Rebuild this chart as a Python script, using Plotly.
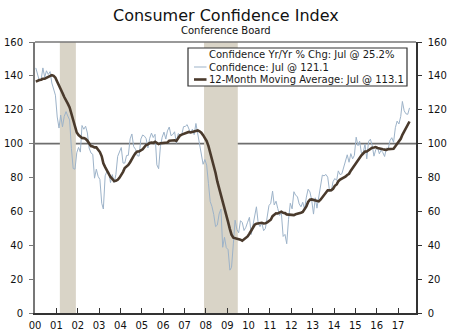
import pandas as pd
import plotly.graph_objects as go

# Conference Board Consumer Confidence Index, monthly, Jan 1999 - Jul 2017
first_month = "1999-01"
confidence = [
    # 1999
    128.9, 133.1, 134.0, 135.5, 137.7, 139.0, 136.2, 136.0, 134.2, 130.5, 137.0, 141.7,
    # 2000
    144.7, 140.8, 137.1, 137.7, 144.7, 139.2, 143.0, 140.8, 142.5, 135.8, 132.6, 128.6,
    # 2001
    115.7, 109.2, 116.9, 109.9, 116.1, 118.9, 116.3, 114.0, 97.0, 85.3, 84.9, 94.6,
    # 2002
    97.8, 95.0, 110.7, 108.5, 110.3, 106.3, 97.4, 94.5, 93.7, 79.6, 84.9, 80.7,
    # 2003
    78.8, 64.8, 61.4, 81.0, 83.6, 83.5, 77.0, 81.7, 77.0, 81.7, 92.5, 94.8,
    # 2004
    97.7, 88.5, 88.5, 93.0, 93.1, 102.8, 105.7, 98.2, 96.7, 92.9, 92.6, 102.7,
    # 2005
    105.1, 104.4, 103.0, 97.5, 103.1, 106.2, 103.6, 105.5, 87.5, 85.2, 98.3, 103.8,
    # 2006
    106.8, 102.7, 107.5, 109.8, 104.7, 105.4, 107.0, 100.2, 105.9, 105.1, 105.3, 110.0,
    # 2007
    110.2, 111.2, 108.2, 106.3, 108.5, 105.3, 111.9, 105.6, 99.5, 95.2, 87.8, 90.6,
    # 2008
    87.3, 76.4, 65.9, 62.8, 58.1, 51.0, 51.9, 58.5, 61.4, 38.8, 44.7, 38.6,
    # 2009
    37.4, 25.3, 26.9, 40.8, 54.8, 49.3, 47.4, 54.5, 53.4, 48.7, 50.6, 53.6,
    # 2010
    56.5, 46.4, 52.3, 57.7, 62.7, 52.9, 51.0, 53.2, 48.6, 49.9, 57.8, 63.4,
    # 2011
    64.8, 72.0, 63.8, 66.0, 61.7, 57.6, 59.2, 45.2, 46.4, 40.9, 55.2, 64.8,
    # 2012
    61.5, 71.6, 69.5, 68.7, 64.4, 62.7, 65.4, 61.3, 68.4, 73.1, 71.5, 66.7,
    # 2013
    58.4, 68.0, 61.9, 69.0, 76.2, 81.4, 81.0, 81.8, 80.2, 72.4, 72.0, 77.5,
    # 2014
    79.4, 78.3, 83.9, 81.7, 82.2, 86.4, 90.3, 93.4, 89.0, 94.1, 91.0, 93.1,
    # 2015
    103.8, 98.8, 101.4, 94.3, 94.6, 99.8, 91.0, 101.3, 102.6, 99.1, 92.6, 96.3,
    # 2016
    97.8, 94.0, 96.1, 94.7, 92.4, 97.4, 96.7, 101.8, 103.5, 100.8, 109.4, 113.3,
    # 2017
    111.6, 116.1, 124.9, 119.4, 117.6, 117.3, 121.1,
]

recession_starts = ["2001-03-01", "2007-12-01"]
recession_ends = ["2001-11-30", "2009-06-30"]

y_ticks = [0, 20, 40, 60, 80, 100, 120, 140, 160]
x_range = ["2000-01-01", "2017-11-03"]

# ---- derived series ----
months = pd.period_range(first_month, periods=len(confidence), freq="M")
s = pd.Series(confidence, index=months.to_timestamp() + pd.Timedelta(days=14))
ma12 = s.rolling(12).mean()
yoy = (s / s.shift(12) - 1) * 100
s = s[s.index >= "2000-01-01"]
ma12 = ma12[ma12.index >= "2000-01-01"]
last_label = s.index[-1].strftime("%b")

# ---- geometry (pixels) ----
W, H = 450, 334
ML, MR, MT, MB = 35, 34, 42, 21
PW, PH = W - ML - MR, H - MT - MB


def px_x(x):
    return (x - ML) / PW


def px_y(y):
    return (H - MB - y) / PH


FONT = "DejaVu Sans, Verdana, sans-serif"
LIGHT = "#9db3c9"
DARK = "#4a3a2c"
GRID100 = "#6e6e6e"

fig = go.Figure()
fig.add_trace(go.Scatter(x=s.index, y=s.values, mode="lines",
                         line=dict(color=LIGHT, width=1), showlegend=False,
                         hoverinfo="skip"))
fig.add_trace(go.Scatter(x=ma12.index, y=ma12.values, mode="lines",
                         line=dict(color=DARK, width=2.6), showlegend=False,
                         hoverinfo="skip"))
# carries the right-hand axis
fig.add_trace(go.Scatter(x=s.index, y=s.values, mode="lines", yaxis="y2",
                         line=dict(color="rgba(0,0,0,0)", width=0),
                         showlegend=False, hoverinfo="skip"))

shapes = []
for a, b in zip(recession_starts, recession_ends):
    shapes.append(dict(type="rect", xref="x", yref="y", x0=a, x1=b, y0=0, y1=160,
                       fillcolor="#d9d4c7", line=dict(width=0), layer="below"))
shapes.append(dict(type="line", xref="paper", yref="y", x0=0, x1=1, y0=100, y1=100,
                   line=dict(color=GRID100, width=1.8), layer="below"))
# top border
shapes.append(dict(type="line", xref="paper", yref="paper", x0=0, x1=1, y0=1, y1=1,
                   line=dict(color="#777777", width=1.5)))

# legend box
shapes.append(dict(type="rect", xref="paper", yref="paper",
                   x0=px_x(188), x1=px_x(407), y0=px_y(86), y1=px_y(48),
                   fillcolor="white", line=dict(color="#333333", width=1.2)))
rows = [54.5, 67, 79.5]
shapes.append(dict(type="line", xref="paper", yref="paper",
                   x0=px_x(194), x1=px_x(206.5), y0=px_y(rows[1]), y1=px_y(rows[1]),
                   line=dict(color=LIGHT, width=1)))
shapes.append(dict(type="line", xref="paper", yref="paper",
                   x0=px_x(194), x1=px_x(206.5), y0=px_y(rows[2]), y1=px_y(rows[2]),
                   line=dict(color=DARK, width=2.6)))

legend_texts = [
    f"Confidence Yr/Yr % Chg: {last_label} @ {yoy.iloc[-1]:.1f}%",
    f"Confidence: {last_label} @ {confidence[-1]:.1f}",
    f"12-Month Moving Average: {last_label} @ {ma12.iloc[-1]:.1f}",
]
annotations = []
for t, r in zip(legend_texts, rows):
    annotations.append(dict(text=t, xref="paper", yref="paper", x=px_x(207), y=px_y(r),
                            xanchor="left", yanchor="middle", showarrow=False,
                            font=dict(family=FONT, size=10, color="#1a1a1a")))
annotations.append(dict(text="Consumer Confidence Index", xref="paper", yref="paper",
                        x=px_x(225.5), y=px_y(15), xanchor="center", yanchor="middle",
                        showarrow=False, font=dict(family=FONT, size=16, color="#111111")))
annotations.append(dict(text="Conference Board", xref="paper", yref="paper",
                        x=px_x(225.5), y=px_y(30.5), xanchor="center", yanchor="middle",
                        showarrow=False, font=dict(family=FONT, size=10, color="#111111")))

axis_font = dict(family=FONT, size=10, color="#111111")
fig.update_layout(
    width=W, height=H,
    margin=dict(l=ML, r=MR, t=MT, b=MB, autoexpand=False),
    paper_bgcolor="white", plot_bgcolor="white",
    showlegend=False,
    shapes=shapes, annotations=annotations,
    xaxis=dict(type="date", range=x_range, tick0="2000-01-01", dtick="M12",
               tickformat="%y", ticks="inside", ticklen=5, tickcolor="#333333",
               showgrid=False, zeroline=False, showline=True, linecolor="#333333",
               linewidth=1.5, tickfont=axis_font, ticklabelstandoff=2,
               automargin=False),
    yaxis=dict(range=[0, 160], tickvals=y_ticks, ticks="outside", ticklen=4,
               tickcolor="#777777", showgrid=False, zeroline=False, showline=True,
               linecolor="#777777", linewidth=2, tickfont=axis_font,
               ticklabelstandoff=4, automargin=False),
    yaxis2=dict(range=[0, 160], tickvals=y_ticks, overlaying="y", side="right",
                ticks="outside", ticklen=4, tickcolor="#333333", showgrid=False,
                zeroline=False, showline=True, linecolor="#333333", linewidth=1.5,
                tickfont=axis_font, ticklabelstandoff=4, automargin=False),
)

fig.write_html("out.html")
